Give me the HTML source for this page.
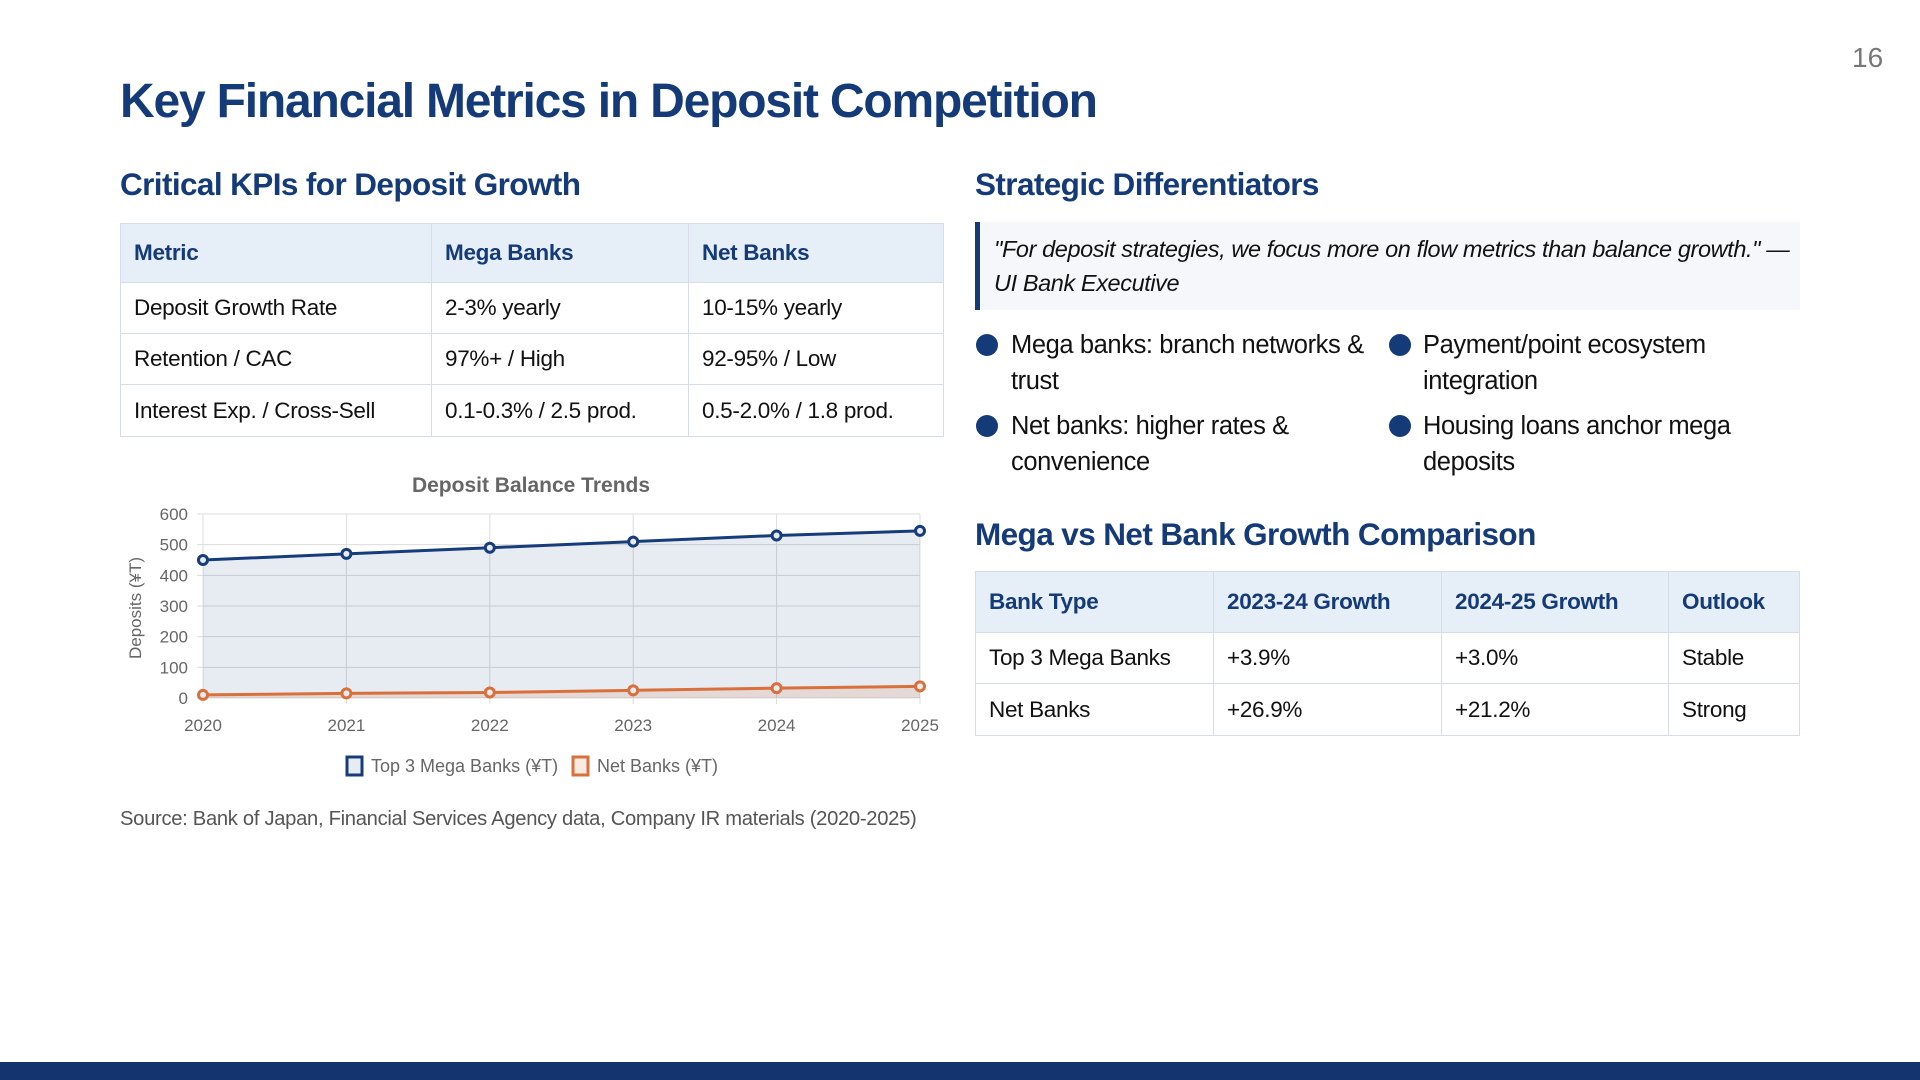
<!DOCTYPE html>
<html><head><meta charset="utf-8">
<style>
*{margin:0;padding:0;box-sizing:border-box}
body{width:1920px;height:1080px;background:#fff;position:relative;overflow:hidden;font-family:"Liberation Sans",sans-serif;color:#111}
.abs{position:absolute}
h1{position:absolute;left:120px;top:74px;font-size:48px;font-weight:bold;color:#143a78;letter-spacing:-1.2px;white-space:nowrap}
h2{position:absolute;font-size:31.5px;font-weight:bold;color:#143a78;letter-spacing:-0.6px;white-space:nowrap}
table{position:absolute;border-collapse:collapse;font-size:22.5px;letter-spacing:-0.3px}
td,th{border:1.5px solid #d6dde8;padding:0 13px;text-align:left;white-space:nowrap}
th{background:#e6eef8;color:#143a78;font-weight:bold}
.q{left:975px;top:222px;width:825px;height:88px;background:#f5f7fa;border-left:5px solid #143a78;padding:10px 14px;font-style:italic;font-size:23.5px;line-height:34px;letter-spacing:-0.4px;white-space:nowrap}
.b{font-size:25.5px;line-height:36px;letter-spacing:-0.4px;white-space:nowrap}
.dot{width:22px;height:22px;border-radius:50%;background:#143a78}
</style></head><body>
<div class="abs" style="left:1852px;top:42px;font-size:28px;color:#777">16</div>
<h1>Key Financial Metrics in Deposit Competition</h1>
<h2 style="left:120px;top:166px">Critical KPIs for Deposit Growth</h2>
<h2 style="left:975px;top:166px">Strategic Differentiators</h2>
<h2 style="left:975px;top:516px">Mega vs Net Bank Growth Comparison</h2>

<table style="left:120px;top:223px;width:824px">
<tr style="height:59px"><th style="width:311px">Metric</th><th style="width:257px">Mega Banks</th><th>Net Banks</th></tr>
<tr style="height:51px"><td>Deposit Growth Rate</td><td>2-3% yearly</td><td>10-15% yearly</td></tr>
<tr style="height:51px"><td>Retention / CAC</td><td>97%+ / High</td><td>92-95% / Low</td></tr>
<tr style="height:52px"><td>Interest Exp. / Cross-Sell</td><td>0.1-0.3% / 2.5 prod.</td><td>0.5-2.0% / 1.8 prod.</td></tr>
</table>

<svg id="chart" class="abs" style="left:0;top:0" width="1920" height="1080"></svg>

<div class="abs" style="left:120px;top:808px;font-size:20.2px;color:#555;letter-spacing:-0.3px;white-space:nowrap">Source: Bank of Japan, Financial Services Agency data, Company IR materials (2020-2025)</div>

<div class="abs q">"For deposit strategies, we focus more on flow metrics than balance growth." —<br>UI Bank Executive</div>

<div class="abs dot" style="left:976px;top:334px"></div>
<div class="abs b" style="left:1011px;top:327px">Mega banks: branch networks &amp;<br>trust</div>
<div class="abs dot" style="left:976px;top:415px"></div>
<div class="abs b" style="left:1011px;top:408px">Net banks: higher rates &amp;<br>convenience</div>
<div class="abs dot" style="left:1389px;top:334px"></div>
<div class="abs b" style="left:1423px;top:327px">Payment/point ecosystem<br>integration</div>
<div class="abs dot" style="left:1389px;top:415px"></div>
<div class="abs b" style="left:1423px;top:408px">Housing loans anchor mega<br>deposits</div>

<table style="left:975px;top:571px;width:825px">
<tr style="height:61px"><th style="width:238px">Bank Type</th><th style="width:228px">2023-24 Growth</th><th style="width:227px">2024-25 Growth</th><th>Outlook</th></tr>
<tr style="height:51px"><td>Top 3 Mega Banks</td><td>+3.9%</td><td>+3.0%</td><td>Stable</td></tr>
<tr style="height:52px"><td>Net Banks</td><td>+26.9%</td><td>+21.2%</td><td>Strong</td></tr>
</table>

<div class="abs" style="left:0;top:1062px;width:1920px;height:18px;background:#13346e"></div>

<script>
const years = ["2020","2021","2022","2023","2024","2025"];
const megaBanks = [450, 470, 490, 510, 530, 545];
const netBanks = [10, 15, 18, 25, 32, 38];
const yTicks = [0, 100, 200, 300, 400, 500, 600];

const NS = "http://www.w3.org/2000/svg";
const svg = document.getElementById("chart");
const L = 203, R = 920, T = 514, B = 698, YMAX = 600;
const xs = i => L + (R - L) * i / (years.length - 1);
const ys = v => B - (B - T) * v / YMAX;
function mk(tag, attrs, parent) {
  const e = document.createElementNS(NS, tag);
  for (const k in attrs) e.setAttribute(k, attrs[k]);
  (parent || svg).appendChild(e);
  return e;
}
yTicks.forEach(v => {
  const g = mk("line", {x1: L - 6, x2: R, y1: ys(v), y2: ys(v), stroke: "#dcdcdc", "stroke-width": 1});
  
  
  const t = mk("text", {x: 188, y: ys(v) + 6, "text-anchor": "end", "font-size": 17, fill: "#666", "font-family": "Liberation Sans"});
  t.textContent = v;
  
  
});
years.forEach((y, i) => {
  const g = mk("line", {x1: xs(i), x2: xs(i), y1: T, y2: B + 6, stroke: "#dcdcdc", "stroke-width": 1});
  
  
  const t = mk("text", {x: xs(i), y: 731, "text-anchor": "middle", "font-size": 17, fill: "#666", "font-family": "Liberation Sans"});
  t.textContent = y;
  
  
});
function series(vals, color, fill, name) {
  let d = vals.map((v, i) => (i ? "L" : "M") + xs(i) + "," + ys(v)).join(" ");
  const a = mk("path", {d: d + " L" + R + "," + B + " L" + L + "," + B + " Z", fill: fill, stroke: "none"});
  
  
  const l = mk("path", {d: d, fill: "none", stroke: color, "stroke-width": 3});
  
  
  vals.forEach((v, i) => {
    const c = mk("circle", {cx: xs(i), cy: ys(v), r: 4.5, fill: "#e8ebf2", stroke: color, "stroke-width": 3});
    
    
  });
}
series(megaBanks, "#173c7c", "rgba(23,60,124,0.1)", "mega-banks");
series(netBanks, "#d9703c", "rgba(217,112,60,0.15)", "net-banks");

const title = mk("text", {x: 531, y: 492, "text-anchor": "middle", "font-size": 21, "font-weight": "bold", fill: "#666", "font-family": "Liberation Sans"});
title.textContent = "Deposit Balance Trends";


const yt = mk("text", {x: 0, y: 0, transform: "translate(141,608) rotate(-90)", "text-anchor": "middle", "font-size": 17, fill: "#666", "font-family": "Liberation Sans"});
yt.textContent = "Deposits (¥T)";



const lg1 = mk("rect", {x: 347, y: 757, width: 15, height: 18, fill: "rgba(23,60,124,0.1)", stroke: "#173c7c", "stroke-width": 3});


const lt1 = mk("text", {x: 371, y: 772, "font-size": 18, fill: "#666", "font-family": "Liberation Sans"});
lt1.textContent = "Top 3 Mega Banks (¥T)";


const lg2 = mk("rect", {x: 573, y: 757, width: 15, height: 18, fill: "rgba(217,112,60,0.15)", stroke: "#d9703c", "stroke-width": 3});


const lt2 = mk("text", {x: 597, y: 772, "font-size": 18, fill: "#666", "font-family": "Liberation Sans"});
lt2.textContent = "Net Banks (¥T)";


</script>
</body></html>
